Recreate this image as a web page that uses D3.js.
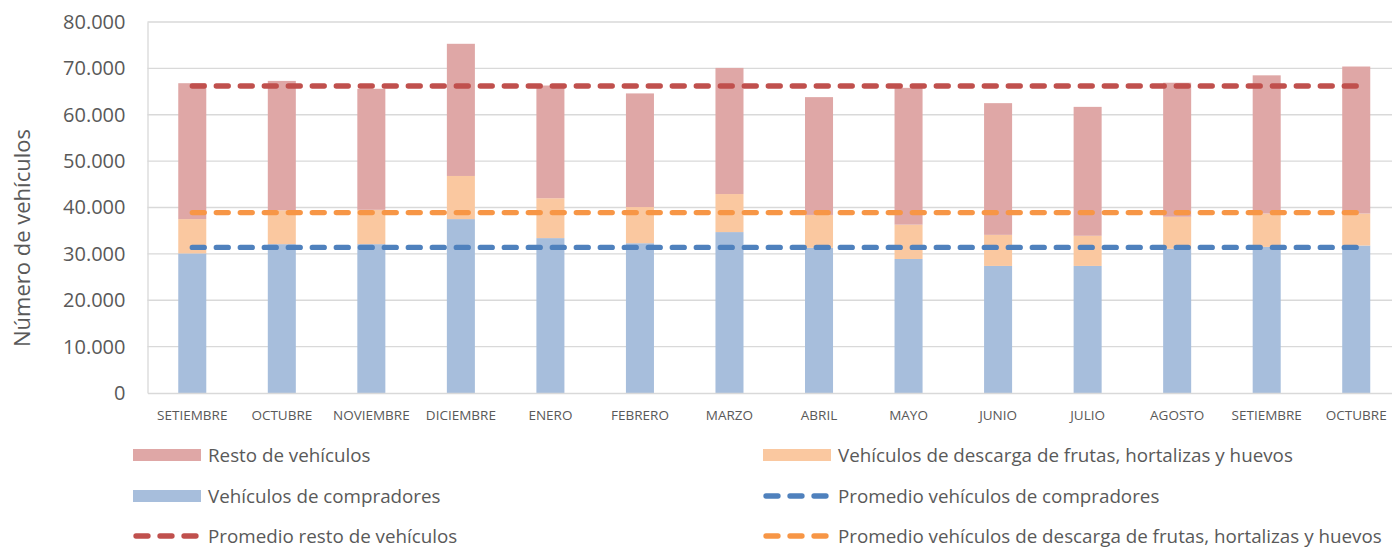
<!DOCTYPE html>
<html>
<head>
<meta charset="utf-8">
<script src="https://cdn.jsdelivr.net/npm/d3@7"></script>
<style>
  html, body { margin: 0; padding: 0; background: #fff; }
  svg { display: block; font-family: "Open Sans", sans-serif; }
</style>
</head>
<body>
<svg id="chart" width="1392" height="549"></svg>
<script>
const categories = ["SETIEMBRE","OCTUBRE","NOVIEMBRE","DICIEMBRE","ENERO","FEBRERO","MARZO","ABRIL","MAYO","JUNIO","JULIO","AGOSTO","SETIEMBRE","OCTUBRE"];
const compradores = [30100, 32100, 32100, 37500, 33400, 32300, 34700, 31300, 28900, 27400, 27400, 31100, 31500, 31800];
const descarga    = [7400, 7300, 7400, 9300, 8600, 7800, 8200, 7100, 7400, 6700, 6500, 6900, 7200, 6900];
const resto       = [29300, 27900, 26100, 28500, 24300, 24500, 27200, 25400, 29500, 28400, 27800, 28900, 29800, 31700];
const promCompradores = 31400;
const promDescarga = 38900;
const promResto = 66200;
const yTicks = [0, 10000, 20000, 30000, 40000, 50000, 60000, 70000, 80000];

const colors = {
  resto: "#DFA7A6", descarga: "#FAC8A0", compradores: "#A7BEDC",
  lResto: "#C0504D", lDescarga: "#F79646", lCompradores: "#4F81BD"
};

const svg = d3.select("#chart");
const pLeft = 147.5, pRight = 1401, pTop = 22, pBottom = 393;

const x = d3.scaleBand().domain(d3.range(categories.length)).range([pLeft, pRight]).paddingInner(0.687).paddingOuter(0.3435);
const y = d3.scaleLinear().domain([0, 80000]).range([pBottom, pTop]);

// gridlines
svg.append("g").selectAll("line").data(yTicks.filter(d => d > 0)).join("line")
  .attr("x1", pLeft).attr("x2", pRight)
  .attr("y1", d => y(d)).attr("y2", d => y(d))
  .attr("stroke", "#D9D9D9").attr("stroke-width", 1.3);

// y axis
const yAxis = d3.axisLeft(y).tickValues(yTicks).tickSize(0).tickPadding(22)
  .tickFormat(d => d3.format(",")(d).replace(/,/g, "."));
const ga = svg.append("g").attr("transform", `translate(${pLeft},0)`).call(yAxis);
ga.select(".domain").attr("stroke", "#D9D9D9").attr("stroke-width", 1.3);
ga.selectAll("text").attr("font-size", 20).attr("fill", "#595959").attr("font-family", "Open Sans");

// stacked bars
const stackData = categories.map((c, i) => ({ i, compradores: compradores[i], descarga: descarga[i], resto: resto[i] }));
const stack = d3.stack().keys(["compradores", "descarga", "resto"]);
const series = stack(stackData);
svg.append("g").selectAll("g").data(series).join("g")
  .attr("fill", d => colors[d.key])
  .selectAll("rect").data(d => d).join("rect")
  .attr("x", d => x(d.data.i)).attr("width", x.bandwidth())
  .attr("y", d => y(d[1])).attr("height", d => y(d[0]) - y(d[1]));

// x axis
const xAxis = d3.axisBottom(x).tickSize(0).tickPadding(17).tickFormat(i => categories[i]);
const gx = svg.append("g").attr("transform", `translate(0,${pBottom})`).call(xAxis);
gx.select(".domain").attr("stroke", "#D9D9D9").attr("stroke-width", 1.5);
gx.selectAll("text").attr("font-size", 13.5).attr("fill", "#595959").attr("font-family", "Open Sans");

// average lines
const xs = [x(0) + x.bandwidth() / 2, x(categories.length - 1) + x.bandwidth() / 2];
const avgs = [
  { v: promResto, c: colors.lResto },
  { v: promDescarga, c: colors.lDescarga },
  { v: promCompradores, c: colors.lCompradores }
];
svg.append("g").selectAll("line").data(avgs).join("line")
  .attr("x1", xs[0]).attr("x2", xs[1])
  .attr("y1", d => y(d.v)).attr("y2", d => y(d.v))
  .attr("stroke", d => d.c).attr("stroke-width", 5.3)
  .attr("stroke-dasharray", "12,12").attr("stroke-linecap", "round");

// y axis title
svg.append("text")
  .attr("transform", "translate(30,238) rotate(-90)")
  .attr("text-anchor", "middle")
  .attr("font-size", 22).attr("fill", "#595959")
  .text("Número de vehículos");

// legend
const legend = [
  { label: "Resto de vehículos", type: "rect", c: colors.resto, x: 133, y: 455 },
  { label: "Vehículos de descarga de frutas, hortalizas y huevos", type: "rect", c: colors.descarga, x: 763, y: 455 },
  { label: "Vehículos de compradores", type: "rect", c: colors.compradores, x: 133, y: 496 },
  { label: "Promedio vehículos de compradores", type: "line", c: colors.lCompradores, x: 763, y: 496 },
  { label: "Promedio resto de vehículos", type: "line", c: colors.lResto, x: 133, y: 536 },
  { label: "Promedio vehículos de descarga de frutas, hortalizas y huevos", type: "line", c: colors.lDescarga, x: 763, y: 536 }
];
const lg = svg.append("g").selectAll("g").data(legend).join("g")
  .attr("transform", d => `translate(${d.x},${d.y})`);
lg.filter(d => d.type === "rect").append("rect")
  .attr("x", 0).attr("y", -6).attr("width", 68).attr("height", 12).attr("fill", d => d.c);
lg.filter(d => d.type === "line").append("line")
  .attr("x1", 3).attr("x2", 66).attr("y1", 0).attr("y2", 0)
  .attr("stroke", d => d.c).attr("stroke-width", 5.3)
  .attr("stroke-dasharray", "12,12").attr("stroke-linecap", "round");
lg.append("text").attr("x", 75).attr("y", 0).attr("dy", "0.35em")
  .attr("font-size", 18.8).attr("fill", "#595959").text(d => d.label);
</script>
</body>
</html>
